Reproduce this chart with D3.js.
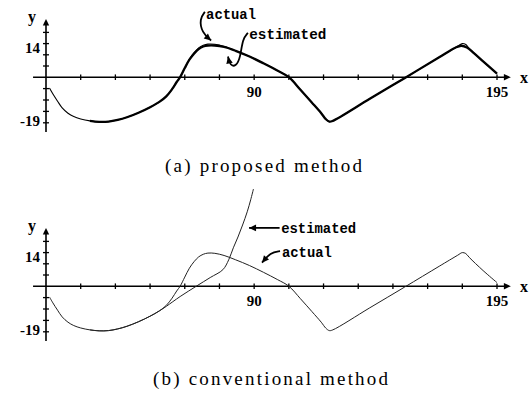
<!DOCTYPE html>
<html>
<head>
<meta charset="utf-8">
<script src="https://cdn.jsdelivr.net/npm/d3@7"></script>
<style>
  html, body { margin: 0; padding: 0; background: #fff; }
  svg { display: block; }
</style>
</head>
<body>
<svg id="chart" width="531" height="393"></svg>
<script>
// ---- data -------------------------------------------------------------
const xTickValues = [0, 15, 30, 45, 60, 75, 90, 105, 120, 135, 150, 165, 180, 195];
const xTickLabels = [90, 195];
const yTickValues = [-19, -14.25, -9.5, -4.75, 14 / 3, 28 / 3, 14, 56 / 3];
const yTickLabels = [14, -19];

// actual trajectory (shared by both panels)
const actualX = [1.5, 3, 5, 7, 9.5, 12, 15, 19, 23, 27, 31, 35, 40, 45, 49, 52, 54.5, 56.5, 58, 60, 62, 64, 66, 68, 70, 73, 77, 82, 88, 94, 100, 105, 110, 115, 119, 121, 122.5, 124, 140, 155, 170, 178, 180, 181.5, 183, 189, 195];
const actualY = [-4.5, -7, -10, -12.8, -15, -16.4, -17.4, -18.2, -18.6, -18.5, -17.8, -16.7, -14.8, -12.5, -10.3, -8, -5, -2, 0, 3.8, 7.5, 10.2, 12.2, 13.3, 13.8, 13.7, 12.8, 11, 8.6, 5.8, 2.8, 0, -5.2, -10.6, -15, -17.5, -18.5, -18.2, -9, -0.4, 8.3, 12.9, 14, 13.6, 12, 6.5, 1.5];

// (a) proposed method estimate
const estAX = [19, 23, 27, 31, 35, 40, 45, 49, 52, 54.5, 56.5, 58, 60, 62, 64, 66, 68, 70, 73, 77, 82, 88, 94, 100, 105, 110, 115, 119, 121, 122.5, 124, 140, 155, 170, 177, 179.5, 182, 185, 189, 195];
const estAY = [-18.2, -18.6, -18.5, -17.8, -16.7, -14.8, -12.5, -10.3, -8, -5, -2, 0, 3.8, 7.3, 9.8, 11.7, 12.8, 13.2, 13.2, 12.6, 11, 8.6, 5.8, 2.8, 0, -5.2, -10.6, -15, -17.5, -18.5, -18.2, -9, -0.4, 8.3, 12.3, 13.1, 12.4, 10, 6.6, 1.5];

// (b) conventional method estimate
const estBX = [19, 23, 27, 31, 35, 40, 45, 49, 52, 58, 65, 71, 76.5, 79, 81, 83, 85, 87, 88.5, 89.7];
const estBY = [-18.2, -18.6, -18.5, -17.8, -16.7, -14.8, -12.5, -10.3, -8.4, -4.3, 0, 3.6, 6.9, 11, 16, 20.5, 25.5, 31, 36, 40.5];

const captions = ["(a) proposed method", "(b) conventional method"];

// ---- layout -----------------------------------------------------------
const svg = d3.select("#chart");
const x = d3.scaleLinear().domain([0, 195]).range([46, 497]);
const pxPerUnit = 2.4;

function panel(axisY, estX, estY, opts) {
  const y = d3.scaleLinear().domain([-19, 14]).range([axisY + 19 * pxPerUnit, axisY - 14 * pxPerUnit]);
  const g = svg.append("g");

  // axes
  g.append("line")
    .attr("x1", x(-5.6)).attr("x2", x(199)).attr("y1", y(0)).attr("y2", y(0))
    .attr("stroke", "#000").attr("stroke-width", 1.6);
  g.append("line")
    .attr("x1", x(0)).attr("x2", x(0)).attr("y1", y(-22.8)).attr("y2", y(22.5))
    .attr("stroke", "#000").attr("stroke-width", 1.6);
  // arrow heads
  g.append("path")
    .attr("d", `M${x(201)},${y(0)} l-7,-3.2 l0,6.4 Z`).attr("fill", "#000");
  g.append("path")
    .attr("d", `M${x(0)},${y(24.2)} l-3.2,6.5 l6.4,0 Z`).attr("fill", "#000");

  // ticks
  g.selectAll(".xt").data(xTickValues.filter(d => d > 0)).join("line")
    .attr("x1", d => x(d)).attr("x2", d => x(d))
    .attr("y1", y(0) - 2.8).attr("y2", y(0) + 2.8)
    .attr("stroke", "#000").attr("stroke-width", 1.3);
  g.selectAll(".yt").data(yTickValues).join("line")
    .attr("x1", x(0) - 3).attr("x2", x(0) + 3)
    .attr("y1", d => y(d)).attr("y2", d => y(d))
    .attr("stroke", "#000").attr("stroke-width", 1.3);

  // tick labels
  const tickFont = "'Liberation Serif', 'Times New Roman', serif";
  g.selectAll(".xl").data(xTickLabels).join("text")
    .attr("x", d => x(d)).attr("y", y(0) + 20)
    .attr("text-anchor", "middle")
    .attr("font-family", tickFont).attr("font-weight", "bold").attr("font-size", 15)
    .text(d => d);
  g.selectAll(".yl").data(yTickLabels).join("text")
    .attr("x", 40).attr("y", d => y(d) + (d > 0 ? 9.5 : 3))
    .attr("text-anchor", "end")
    .attr("font-family", tickFont).attr("font-weight", "bold").attr("font-size", 15)
    .text(d => d);
  g.append("text").attr("x", 520).attr("y", y(0) + 6)
    .attr("font-family", tickFont).attr("font-weight", "bold").attr("font-size", 16).text("x");
  g.append("text").attr("x", 28).attr("y", y(0) - 55)
    .attr("font-family", tickFont).attr("font-weight", "bold").attr("font-size", 16).text("y");

  // curves
  const line = d3.line().x(d => x(d[0])).y(d => y(d[1])).curve(d3.curveCatmullRom.alpha(0.5));
  g.append("path")
    .datum(actualX.map((v, i) => [v, actualY[i]]))
    .attr("d", line).attr("fill", "none")
    .attr("stroke", opts.actualColor).attr("stroke-width", opts.actualWidth);
  g.append("path")
    .datum(estX.map((v, i) => [v, estY[i]]))
    .attr("d", line).attr("fill", "none")
    .attr("stroke", opts.estColor).attr("stroke-width", opts.estWidth);

  // annotations
  const annFont = "'Liberation Mono', 'DejaVu Sans Mono', monospace";
  const arrowLine = d3.line().x(d => x(d[0])).y(d => y(d[1])).curve(d3.curveBasis);
  opts.notes.forEach(n => {
    g.append("text")
      .attr("x", x(n.at[0])).attr("y", y(n.at[1]))
      .attr("font-family", annFont).attr("font-weight", "bold").attr("font-size", 14)
      .attr("textLength", n.len).attr("lengthAdjust", "spacingAndGlyphs")
      .text(n.text);
    g.append("path").attr("d", arrowLine(n.path))
      .attr("fill", "none").attr("stroke", "#000").attr("stroke-width", 1.8);
    const p1 = n.path[n.path.length - 2], p2 = n.path[n.path.length - 1];
    const ang = Math.atan2(y(p2[1]) - y(p1[1]), x(p2[0]) - x(p1[0])) * 180 / Math.PI;
    g.append("path")
      .attr("d", "M0,0 L-7,-3.3 L-7,3.3 Z")
      .attr("transform", `translate(${x(p2[0])},${y(p2[1])}) rotate(${ang})`)
      .attr("fill", "#000");
  });

  // caption
  svg.append("text")
    .attr("x", opts.capX).attr("y", opts.capY)
    .attr("font-family", "'Liberation Serif', 'Times New Roman', serif").attr("font-size", 19)
    .attr("textLength", opts.capLen).attr("lengthAdjust", "spacing")
    .text(opts.caption);
}

panel(77.2, estAX, estAY, {
  actualColor: "#000", actualWidth: 1.1,
  estColor: "#000", estWidth: 2.3,
  caption: captions[0], capX: 165, capY: 172, capLen: 197,
  notes: [
    { text: "actual", at: [69.2, 24.4], len: 50,
      path: [[68.7, 27.2], [66.4, 24.3], [67.4, 18.6], [71.4, 15.3]] },
    { text: "estimated", at: [87.9, 15.8], len: 77,
      path: [[87.3, 18.5], [85.0, 16.0], [84.0, 8.0], [82.2, 4.6], [79.6, 4.8], [78.7, 8.6]] }
  ]
});

panel(286.2, estBX, estBY, {
  actualColor: "#222", actualWidth: 1,
  estColor: "#222", estWidth: 1,
  caption: captions[1], capX: 153, capY: 385, capLen: 235,
  notes: [
    { text: "estimated", at: [101.7, 22.2], len: 75,
      path: [[101.0, 24.3], [94, 24.3], [87.8, 24.3]] },
    { text: "actual", at: [102.0, 12.3], len: 50,
      path: [[101.2, 14.6], [97, 14.0], [93.4, 9.8]] }
  ]
});
</script>
</body>
</html>
